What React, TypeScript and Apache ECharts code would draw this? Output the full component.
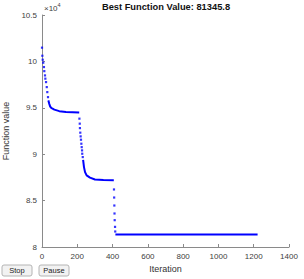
import React, { useEffect, useRef } from "react";
import * as echarts from "echarts";

// Sparse (visibly separate) evaluation points: iteration and function value
const dotIter = [0, 2, 4, 7, 11, 13, 17, 19, 23, 27, 30, 34,
  212, 214, 215, 217, 219, 221, 223, 225, 227, 228, 231,
  408, 409, 410, 411, 412, 414, 415];
const dotValue = [101480, 100610, 100180, 99860, 99390, 98950, 98490, 98140, 97770, 97230, 96690, 96150,
  93830, 93290, 92810, 92320, 91920, 91560, 91130, 90760, 90410, 90050, 89690,
  86200, 85330, 84470, 83610, 82890, 82170, 81670];

// Dense stretches (points so close they look like a continuous line)
const dense1Iter = [36, 41, 46, 51, 60, 70, 98, 136, 211];
const dense1Value = [95800, 95440, 95150, 95010, 94900, 94800, 94640, 94560, 94500];
const dense2Iter = [233, 238, 244, 253, 272, 300, 348, 407];
const dense2Value = [89400, 88610, 88070, 87720, 87470, 87280, 87210, 87200];
const dense3Iter = [416, 1222];
const dense3Value = [81345.8, 81345.8];

const bestValue = 81345.8;
const xTicks = [0, 200, 400, 600, 800, 1000, 1200, 1400];
const yTicks = [80000, 85000, 90000, 95000, 100000, 105000];

const FONT = "'Liberation Sans', Arial, Helvetica, sans-serif";
const BLUE = "#0000ff";

export default function App() {
  const ref = useRef<HTMLDivElement>(null);
  useEffect(() => {
    if (!ref.current) return;
    const chart = echarts.init(ref.current, undefined, { renderer: "svg" });
    const zip = (a: number[], b: number[]) => a.map((v, i) => [v, b[i]]);
    const denseSets = [
      zip(dense1Iter, dense1Value),
      zip(dense2Iter, dense2Value),
      zip(dense3Iter, dense3Value),
    ];
    const button = (x: number, w: number, label: string) => ({
      type: "group",
      children: [
        {
          type: "rect",
          shape: { x, y: 265, width: w, height: 11, r: 2 },
          style: { fill: "#f2f2f2", stroke: "#b4b4b4", lineWidth: 1 },
        },
        {
          type: "text",
          style: {
            text: label,
            x: x + w / 2,
            y: 270.5,
            textAlign: "center",
            textVerticalAlign: "middle",
            font: `7.5px ${FONT}`,
            fill: "#222",
          },
        },
      ],
    });
    chart.setOption({
      animation: false,
      backgroundColor: "#ffffff",
      grid: {
        left: 42,
        right: 15,
        top: 15,
        bottom: 32,
        containLabel: false,
        outerBoundsMode: "none",
      },
      xAxis: {
        type: "value",
        min: xTicks[0],
        max: xTicks[xTicks.length - 1],
        interval: 200,
        name: "Iteration",
        nameLocation: "middle",
        nameGap: 17,
        nameTextStyle: { fontFamily: FONT, fontSize: 9, color: "#333" },
        axisLine: { show: true, lineStyle: { color: "#8a8a8a", width: 1 } },
        axisTick: { show: true, inside: true, length: 3, lineStyle: { color: "#8a8a8a" } },
        axisLabel: {
          fontFamily: FONT,
          fontSize: 8,
          color: "#404040",
          margin: 5,
          formatter: (v: number) => String(v),
        },
        splitLine: { show: false },
      },
      yAxis: {
        type: "value",
        min: yTicks[0],
        max: yTicks[yTicks.length - 1],
        interval: 5000,
        name: "Function value",
        nameLocation: "middle",
        nameGap: 25,
        nameTextStyle: { fontFamily: FONT, fontSize: 9, color: "#333" },
        axisLine: { show: true, lineStyle: { color: "#8a8a8a", width: 1 } },
        axisTick: { show: true, inside: true, length: 3, lineStyle: { color: "#8a8a8a" } },
        axisLabel: {
          fontFamily: FONT,
          fontSize: 8,
          color: "#404040",
          margin: 5,
          formatter: (v: number) => String(v / 10000),
        },
        splitLine: { show: false },
      },
      graphic: [
        {
          type: "text",
          style: {
            text: `Best Function Value: ${bestValue}`,
            x: 166,
            y: 7,
            textAlign: "center",
            textVerticalAlign: "middle",
            font: `bold 9.3px ${FONT}`,
            fill: "#111",
          },
        },
        {
          type: "text",
          style: {
            text: "×10",
            x: 44,
            y: 12,
            textAlign: "left",
            textVerticalAlign: "bottom",
            font: `8px ${FONT}`,
            fill: "#404040",
          },
        },
        {
          type: "text",
          style: {
            text: "4",
            x: 57.5,
            y: 8,
            textAlign: "left",
            textVerticalAlign: "bottom",
            font: `5.5px ${FONT}`,
            fill: "#404040",
          },
        },
        button(2, 30, "Stop"),
        button(39, 30, "Pause"),
      ],
      series: [
        {
          type: "scatter",
          data: zip(dotIter, dotValue),
          symbol: "rect",
          symbolSize: 2.2,
          itemStyle: { color: BLUE },
          silent: true,
        },
        ...denseSets.map((d) => ({
          type: "line",
          data: d,
          showSymbol: false,
          symbol: "none",
          lineStyle: { color: BLUE, width: 2 },
          silent: true,
        })),
      ],
    });
    return () => chart.dispose();
  }, []);
  return (
    <div
      ref={ref}
      style={{ position: "fixed", left: 0, top: 0, width: 304, height: 279 }}
    />
  );
}
